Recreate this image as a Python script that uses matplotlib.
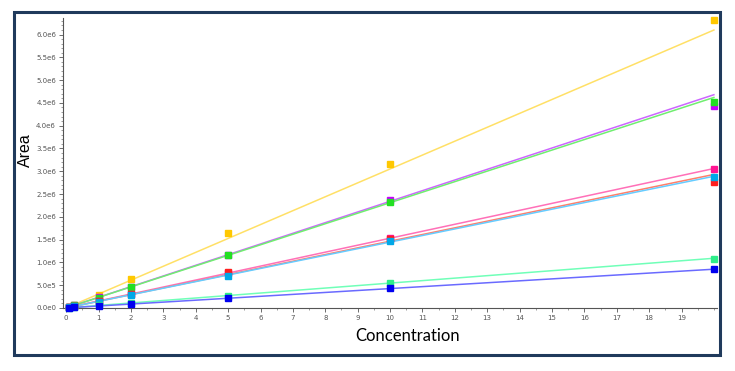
import numpy as np
import matplotlib
matplotlib.use('Agg')
import matplotlib.pyplot as plt
from matplotlib.patches import Rectangle
from matplotlib.ticker import MultipleLocator, FuncFormatter

# Concentrations des étalons
concentration = [0.1, 0.25, 1, 2, 5, 10, 20]

# Aires mesurées (x 1e6) par composé
area_yellow = [0.03, 0.07, 0.28, 0.63, 1.64, 3.17, 6.32]
area_purple = [0.02, 0.06, 0.23, 0.47, 1.17, 2.36, 4.44]
area_green = [0.02, 0.06, 0.22, 0.46, 1.16, 2.32, 4.53]
area_pink = [0.015, 0.04, 0.15, 0.31, 0.77, 1.53, 3.06]
area_red = [0.015, 0.04, 0.15, 0.31, 0.78, 1.52, 2.76]
area_cyan = [0.015, 0.035, 0.14, 0.29, 0.71, 1.47, 2.87]
area_spring = [0.005, 0.015, 0.06, 0.11, 0.26, 0.54, 1.07]
area_blue = [0.004, 0.01, 0.05, 0.09, 0.21, 0.43, 0.85]

# Pentes des droites d'étalonnage (x 1e6 par unité)
fit_slopes = [0.305, 0.234, 0.231, 0.153, 0.1465, 0.1445, 0.0545, 0.0425]

series = [area_yellow, area_purple, area_green, area_pink,
          area_red, area_cyan, area_spring, area_blue]
point_colors = ['#FFC800', '#C800FF', '#22E022', '#FF1493',
                '#FF1E1E', '#00A8E8', '#2EEE8A', '#0000F0']
line_colors = ['#FFE066', '#CC66FF', '#70EE70', '#FF70B8',
               '#FF7F6A', '#66CCFF', '#70FFB8', '#6A6AFF']

fig = plt.figure(figsize=(7.35, 3.71), dpi=100)
ax = fig.add_axes([0.0857, 0.170, 0.890, 0.781])

x_fit = np.array([0, 20])
for vals, slope, pc, lc in zip(series, fit_slopes, point_colors, line_colors):
    ax.plot(x_fit, slope * 1e6 * x_fit, color=lc, linewidth=1.1, zorder=2)
    ax.plot(concentration, np.array(vals) * 1e6, linestyle='none', marker='s',
            markersize=3.8, color=pc, clip_on=False, zorder=3)

ax.set_xlim(-0.1, 20.1)
ax.set_ylim(0, 6.36e6)

ax.xaxis.set_minor_locator(MultipleLocator(0.5))
ax.set_xticks(range(0, 20))
ax.yaxis.set_major_locator(MultipleLocator(5e5))
ax.yaxis.set_minor_locator(MultipleLocator(1e5))


def sci_fmt(v, pos):
    if v == 0:
        return '0.0e0'
    exp = int(np.floor(np.log10(abs(v))))
    return '{:.1f}e{}'.format(v / 10 ** exp, exp)


ax.yaxis.set_major_formatter(FuncFormatter(sci_fmt))
ax.tick_params(which='major', labelsize=5, colors='#555555', length=3, width=0.6, pad=2)
ax.tick_params(which='minor', colors='#777777', length=1.5, width=0.5)

for side in ['top', 'right']:
    ax.spines[side].set_visible(False)
for side in ['left', 'bottom']:
    ax.spines[side].set_color('#555555')
    ax.spines[side].set_linewidth(0.8)

fig.text(0.035, 0.595, 'Area', rotation=90, ha='center', va='center',
         fontsize=11.5, family='Liberation Sans')
fig.text(0.555, 0.095, 'Concentration', ha='center', va='center',
         fontsize=12, family='Lato')

# Cadre extérieur
fig.patches.append(Rectangle((14 / 735, 1 - 355 / 371), 706 / 735, 343 / 371,
                             transform=fig.transFigure, fill=False,
                             edgecolor='#203A5C', linewidth=2.2))

fig.savefig('out.png', dpi=100)
